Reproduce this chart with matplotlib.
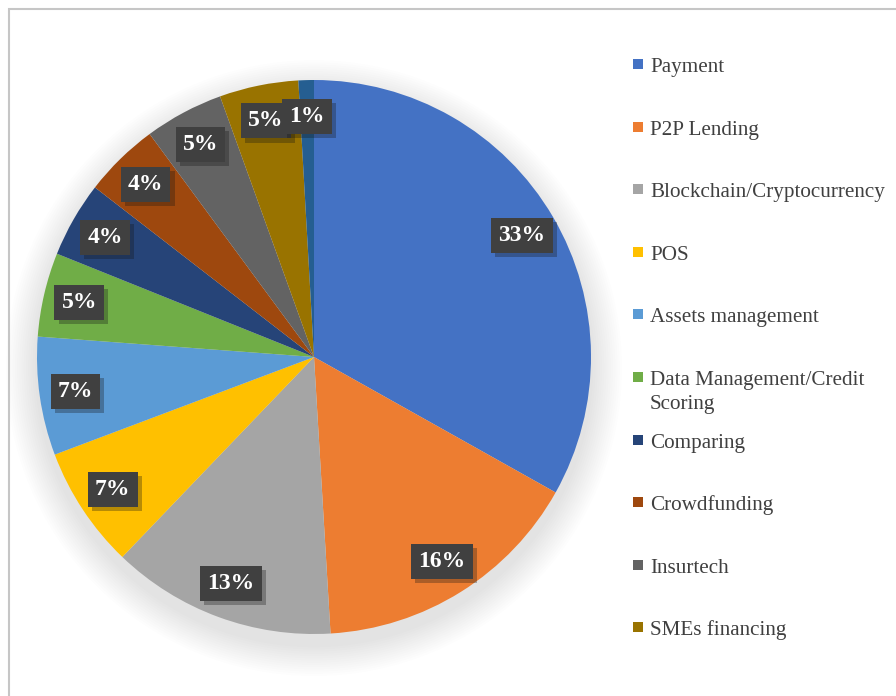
import matplotlib
matplotlib.use("Agg")
import matplotlib.pyplot as plt
import matplotlib.patheffects as pe
from matplotlib.patches import Rectangle, Circle

plt.rcParams['font.family'] = ['Liberation Serif', 'DejaVu Serif']

categories = ["Payment", "P2P Lending", "Blockchain/Cryptocurrency", "POS",
              "Assets management", "Data Management/Credit\nScoring", "Comparing",
              "Crowdfunding", "Insurtech", "SMEs financing", "Other"]
shares = [33.1, 15.9, 13.1, 7.1, 6.9, 4.9, 4.4, 4.4, 4.6, 4.6, 0.9]
colors = ["#4472C4", "#ED7D31", "#A5A5A5", "#FFC000", "#5B9BD5", "#70AD47",
          "#264478", "#9E480E", "#636363", "#997300", "#255E91"]
legend_count = 10

W, H = 896, 696
fig = plt.figure(figsize=(W / 100, H / 100), dpi=100)

# outer frame
fig.patches.append(Rectangle((9 / W, -0.05), 1.1, 1 - 9 / H + 0.05, transform=fig.transFigure,
                             fill=False, ec="#c6c6c6", lw=1.5))

cx, cy, r = 314, 357, 277
ax = fig.add_axes([(cx - r) / W, (H - cy - r) / H, 2 * r / W, 2 * r / H])

# soft shadow under the pie
n = 14
for i in range(n):
    c = Circle((0.0, -0.04), 1.0 + 0.008 * (n - i), color="black",
               alpha=0.007, lw=0, zorder=0)
    c.set_clip_on(False)
    ax.add_patch(c)

wedges, texts, autotexts = ax.pie(shares, colors=colors, startangle=90, counterclock=False,
                                  autopct=lambda p: "%d%%" % round(p), pctdistance=0.87,
                                  wedgeprops=dict(lw=0))
for t in autotexts:
    t.set_color("white")
    t.set_fontweight("bold")
    t.set_fontsize(17)
    t.set_bbox(dict(boxstyle="square,pad=0.3", fc="#404040", ec="none"))
    t.get_bbox_patch().set_path_effects([pe.SimplePatchShadow(offset=(3, -3), alpha=0.3),
                                         pe.Normal()])
ax.set_xlim(-1, 1)
ax.set_ylim(-1, 1)
ax.set_aspect("equal")
ax.axis("off")

# legend
y0, step = 65, 62.6
for i in range(legend_count):
    y = y0 + i * step
    fig.patches.append(Rectangle((633 / W, 1 - (y + 4) / H), 10 / W, 10 / H,
                                 transform=fig.transFigure, fc=colors[i], ec="none"))
    lines = categories[i].split("\n")
    for k, line in enumerate(lines):
        fig.text(650 / W, 1 - (y + 7 + 24 * k) / H, line, fontsize=15.2, color="#404040",
                 va="baseline", ha="left")

fig.savefig("out.png", dpi=100)
